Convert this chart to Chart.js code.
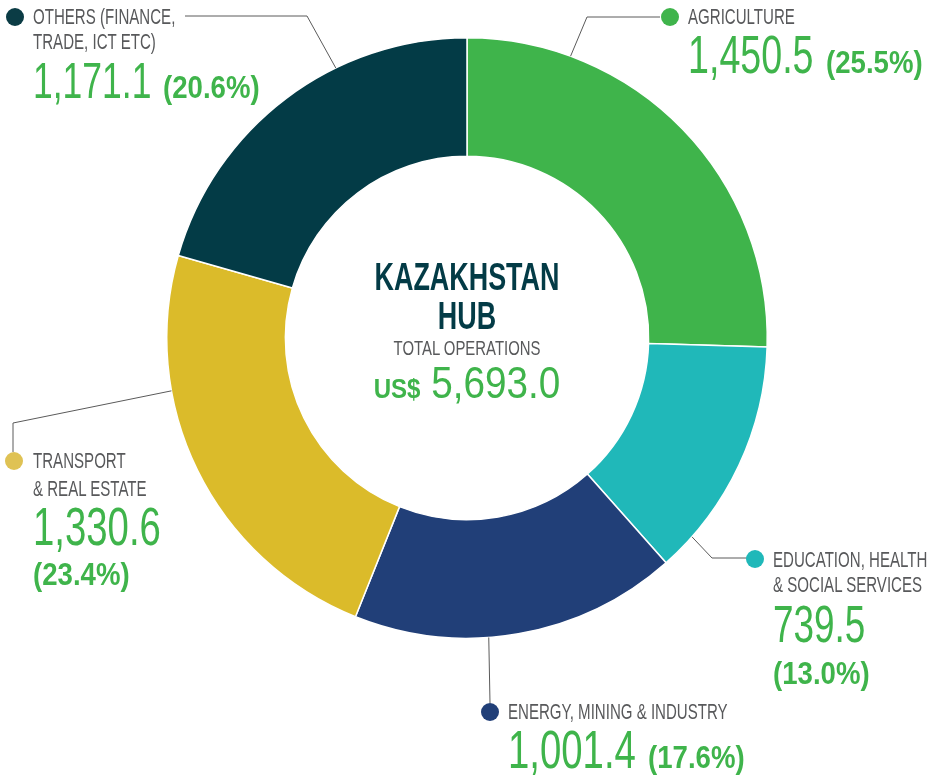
<!DOCTYPE html>
<html>
<head>
<meta charset="utf-8">
<script src="https://cdn.jsdelivr.net/npm/chart.js@4.4.1/dist/chart.umd.min.js"></script>
<style>
  body { margin: 0; background: #fff; }
  #wrap { position: relative; width: 942px; height: 777px; overflow: hidden; font-family: "Liberation Sans", Arial, sans-serif; }
  #wrap canvas { position: absolute; left: 0; top: 0; }
  .t { position: absolute; white-space: nowrap; line-height: 1; transform-origin: left top; }
  .lbl { font-size: 22px; color: #58595b; transform: scaleX(0.685); }
  .num { font-size: 53px; color: #3fb44b; transform: scaleX(0.71); }
  .pct { font-weight: bold; font-size: 31px; color: #3fb44b; transform: scaleX(0.89); }
  .ctr { position: absolute; left: 267px; width: 400px; text-align: center; white-space: nowrap; line-height: 1; transform-origin: center top; }
</style>
</head>
<body>
<div id="wrap">
  <canvas id="hubChart"></canvas>
</div>
<script>
// Sector figures, US$ million
const categories = ['Agriculture', 'Education, Health & Social Services', 'Energy, Mining & Industry', 'Transport & Real Estate', 'Others (Finance, Trade, ICT etc)'];
const values = [1450.5, 739.5, 1001.4, 1330.6, 1171.1];
const shares = [25.5, 13.0, 17.6, 23.4, 20.6];
const labelLines = [['AGRICULTURE'], ['EDUCATION, HEALTH', '& SOCIAL SERVICES'], ['ENERGY, MINING & INDUSTRY'], ['TRANSPORT', '& REAL ESTATE'], ['OTHERS (FINANCE,', 'TRADE, ICT ETC)']];
const hubTitle = ['KAZAKHSTAN', 'HUB'];
const totalLabel = 'TOTAL OPERATIONS';
const totalValue = 5693.0;

const colors = ['#3fb44b', '#20b8b9', '#213f78', '#dbbb2a', '#033b46'];
const dotColors = ['#3fb44b', '#20b8b9', '#213f78', '#dfc254', '#0b3c45'];

// label placement (baselines in px) and leader line routes
// pct: null -> same line right after the number, else own line baseline
const labelPos = [
    { x: 688, lines: [25], num: 73, numSize: 53, pct: null },
    { x: 773, lines: [568, 593], num: 642, numSize: 52, pct: 684 },
    { x: 508, lines: [720], num: 768, numSize: 54, pct: null },
    { x: 33, lines: [469, 497], num: 545, numSize: 54, pct: 585 },
    { x: 33, lines: [25, 50], num: 98, numSize: 50, pct: null }
];
const leaders = [
    { frac: 0.22, route: [[587, 17], [660, 17]], dot: [670, 17] },
    { frac: 0.85, route: [[712, 558], [748, 558]], dot: [755, 559] },
    { frac: 0.59, route: [[490, 703]], dot: [490, 712] },
    { frac: 0.69, route: [[13, 423], [13, 452]], dot: [14, 461] },
    { frac: 0.65, route: [[307, 16], [185, 16]], dot: [15, 17] }
];

const fmt = v => v.toLocaleString('en-US', { minimumFractionDigits: 1, maximumFractionDigits: 1 });
const ASC = 0.8465; // baseline offset for Liberation Sans at line-height 1
const wrap = document.getElementById('wrap');

function addText(cls, text, x, baseline, size) {
    const d = document.createElement('div');
    d.className = 't ' + cls;
    d.textContent = text;
    d.style.left = x + 'px';
    d.style.fontSize = size + 'px';
    d.style.top = (baseline - ASC * size) + 'px';
    wrap.appendChild(d);
    return d;
}

function renderLabels() {
    labelPos.forEach((p, i) => {
        labelLines[i].forEach((line, j) => addText('lbl', line, p.x, p.lines[j], 22));
        const n = addText('num', fmt(values[i]), p.x, p.num, p.numSize);
        const pctText = '(' + shares[i].toFixed(1) + '%)';
        if (p.pct === null) {
            const w = n.getBoundingClientRect().width;
            addText('pct', pctText, p.x + w + 12, p.num, 31);
        } else {
            addText('pct', pctText, p.x, p.pct, 31);
        }
    });

    const center = [
        { html: hubTitle[0], base: 290, size: 39, style: 'font-weight:bold;color:#033b46;transform:scaleX(0.69)' },
        { html: hubTitle[1], base: 329, size: 39, style: 'font-weight:bold;color:#033b46;transform:scaleX(0.69)' },
        { html: totalLabel, base: 355, size: 21, style: 'color:#58595b;transform:scaleX(0.71)' },
        { html: '<span style="font-weight:bold;font-size:28px">US$</span> ' + fmt(totalValue), base: 398, size: 45, style: 'color:#3fb44b;transform:scaleX(0.86)' }
    ];
    center.forEach(c => {
        const d = document.createElement('div');
        d.className = 'ctr';
        d.innerHTML = c.html;
        d.style.cssText += c.style + ';font-size:' + c.size + 'px;top:' + (c.base - ASC * c.size) + 'px';
        wrap.appendChild(d);
    });
}

// leader lines and coloured dots
const leaderPlugin = {
    id: 'leaders',
    afterDatasetsDraw(chart) {
        const ctx = chart.ctx;
        const arcs = chart.getDatasetMeta(0).data;
        ctx.save();
        leaders.forEach((l, i) => {
            const a = arcs[i];
            const ang = a.startAngle + l.frac * (a.endAngle - a.startAngle);
            const r = a.outerRadius;
            ctx.beginPath();
            ctx.moveTo(a.x + Math.cos(ang) * r, a.y + Math.sin(ang) * r);
            l.route.forEach(pt => ctx.lineTo(pt[0], pt[1]));
            ctx.strokeStyle = '#5a5a5a';
            ctx.lineWidth = 1;
            ctx.stroke();
            ctx.beginPath();
            ctx.arc(l.dot[0], l.dot[1], 9, 0, Math.PI * 2);
            ctx.fillStyle = dotColors[i];
            ctx.fill();
        });
        ctx.restore();
    }
};

const cv = document.getElementById('hubChart');
cv.width = 942; cv.height = 777;
cv.style.width = '942px'; cv.style.height = '777px';

new Chart(cv.getContext('2d'), {
    type: 'doughnut',
    data: {
        labels: categories,
        datasets: [{
            data: values,
            backgroundColor: colors,
            borderColor: '#ffffff',
            borderWidth: 1.5,
            hoverOffset: 0
        }]
    },
    options: {
        responsive: false,
        animation: false,
        cutout: '60.5%',
        layout: { padding: { top: 37, bottom: 138, left: 166, right: 174 } },
        plugins: { legend: { display: false }, tooltip: { enabled: false } }
    },
    plugins: [leaderPlugin]
});

renderLabels();
</script>
</body>
</html>
